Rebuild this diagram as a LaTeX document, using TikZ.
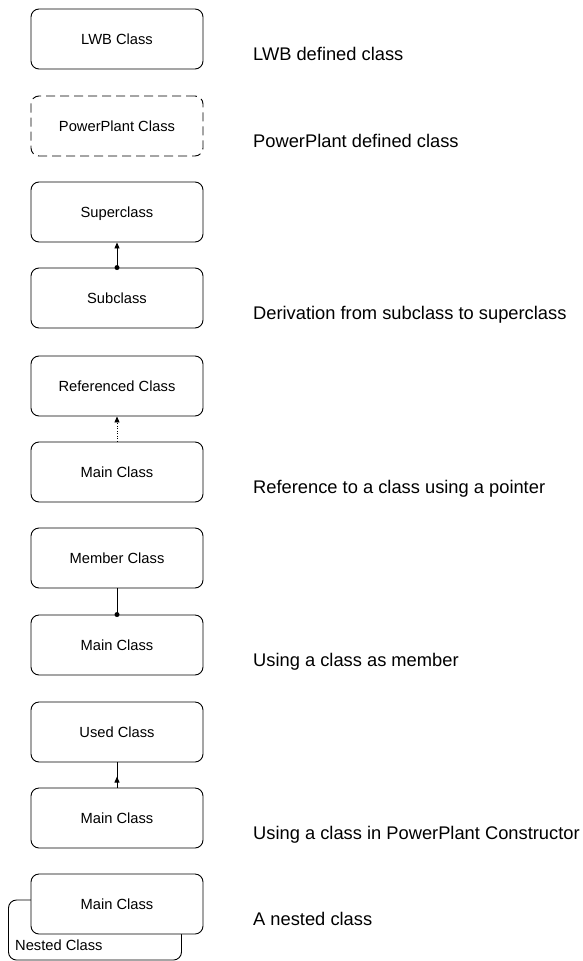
\documentclass[tikz,border=0pt]{standalone}
\usepackage{fontspec}
\setmainfont{Liberation Sans}
\usetikzlibrary{arrows.meta,decorations.markings}

\begin{document}
\begin{tikzpicture}[x=1pt,y=-1pt,
  cls/.style={draw,rounded corners=8pt,minimum width=172pt,minimum height=60pt,
    font=\fontsize{14.7}{17}\selectfont,text height=10.5pt,text depth=0pt,
    inner sep=0pt,line width=0.9pt,fill=white},
  ppcls/.style={cls,dash pattern=on 9pt off 5pt},
  note/.style={anchor=base west,font=\fontsize{18.3}{22}\selectfont,inner sep=0pt},
  link/.style={line width=0.9pt},
  tip/.style={-{Triangle[length=6pt,width=5pt]}},
  uparrow/.style={postaction={decorate},decoration={markings,
    mark=at position 11pt with {\arrow{Triangle[length=6pt,width=5pt]}}}}
]
\useasboundingbox (0,0) rectangle (583,961);

% legend boxes
\node[cls]   (lwb) at (117,39)  {LWB Class};
\node[ppcls] (pp)  at (117,126) {PowerPlant Class};

\node[cls] (sup) at (117,212) {Superclass};
\node[cls] (sub) at (117,298) {Subclass};

\node[cls] (ref)   at (117,386) {Referenced Class};
\node[cls] (main1) at (117,472) {Main Class};

\node[cls] (mem)   at (117,558) {Member Class};
\node[cls] (main2) at (117,645) {Main Class};

\node[cls] (used)  at (117,732) {Used Class};
\node[cls] (main3) at (117,818) {Main Class};

% nested class: outer box behind the main box
\node[cls,minimum width=173pt] (nest) at (95,930) {};
\node[anchor=base west,inner sep=0pt,font=\fontsize{14.7}{17}\selectfont] (nestlbl) at (15,950) {Nested Class};
\node[cls] (main4) at (117,904) {Main Class};

% connectors
\draw[link,tip] (sub.north) -- (sup.south);
\fill (sub.north) circle (2.5pt);

\draw[link,tip,dash pattern=on 1pt off 1.5pt] (main1.north) -- (ref.south);

\draw[link] (mem.south) -- (main2.north);
\fill (main2.north) circle (2.5pt);

\draw[link,uparrow] (main3.north) -- (used.south);

% descriptions
\node[note] (d1) at (253,60.5)  {LWB defined class};
\node[note] (d2) at (253,147.5) {PowerPlant defined class};
\node[note] (d3) at (253,319.5) {Derivation from subclass to superclass};
\node[note] (d4) at (253,493.5) {Reference to a class using a pointer};
\node[note] (d5) at (253,666.5) {Using a class as member};
\node[note] (d6) at (253,839.5) {Using a class in PowerPlant Constructor};
\node[note] (d7) at (253,925.5) {A nested class};
\end{tikzpicture}
\end{document}
